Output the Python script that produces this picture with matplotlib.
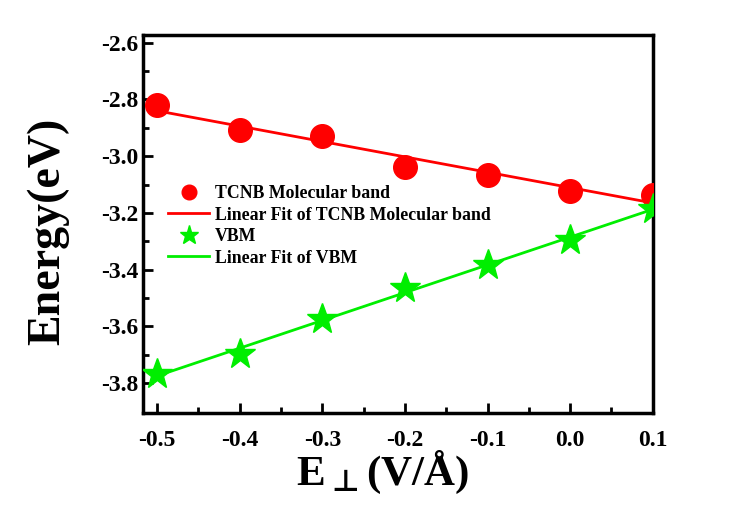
import numpy as np
import matplotlib.pyplot as plt

plt.rcParams['font.family'] = ['Liberation Serif', 'DejaVu Serif']
plt.rcParams['font.weight'] = 'bold'

field = [-0.5, -0.4, -0.3, -0.2, -0.1, 0.0, 0.1]
tcnb = [-2.82, -2.907, -2.928, -3.037, -3.066, -3.122, -3.136]
vbm = [-3.768, -3.697, -3.574, -3.464, -3.383, -3.295, -3.186]

x = np.array(field)
fit_t = np.polyval(np.polyfit(x, tcnb, 1), x)
fit_v = np.polyval(np.polyfit(x, vbm, 1), x)

fig = plt.figure(figsize=(7.43, 5.24), dpi=100)
ax = fig.add_axes([0.1925, 0.212, 0.686, 0.721])

ax.plot(x, tcnb, 'o', color='#ff0000', markersize=17, label='TCNB Molecular band', zorder=3)
ax.plot(x, fit_t, '-', color='#ff0000', lw=2, label='Linear Fit of TCNB Molecular band')
ax.plot(x, vbm, '*', color='#00ee00', markersize=23, label='VBM', zorder=3)
ax.plot(x, fit_v, '-', color='#00ee00', lw=2, label='Linear Fit of VBM')

ax.set_xlim(-0.517, 0.1)
ax.set_ylim(-3.905, -2.573)
ax.set_xticks(field)
ax.set_xticklabels(['-0.5', '-0.4', '-0.3', '-0.2', '-0.1', '0.0', '0.1'])
ax.set_xticks(np.arange(-0.45, 0.1, 0.1), minor=True)
ax.set_yticks([-3.8, -3.6, -3.4, -3.2, -3.0, -2.8, -2.6])
ax.set_yticklabels(['-3.8', '-3.6', '-3.4', '-3.2', '-3.0', '-2.8', '-2.6'])
ax.set_yticks(np.arange(-3.7, -2.6, 0.2), minor=True)
ax.tick_params(which='both', direction='in', width=2, labelsize=17)
ax.tick_params(axis='x', pad=12)
ax.tick_params(which='major', length=7)
ax.tick_params(which='minor', length=4)
for s in ax.spines.values():
    s.set_linewidth(2.5)

ax.set_xlabel(r'E$_{\bot}$(V/Å)', fontsize=31, fontweight='bold',
              math_fontfamily='dejavusans')
ax.xaxis.set_label_coords(0.47, -0.095)
ax.set_ylabel('Energy(eV)', fontsize=33, fontweight='bold')
ax.yaxis.set_label_coords(-0.145, 0.48)

ax.legend(loc='upper left', bbox_to_anchor=(0.017, 0.645), frameon=False,
          prop={'size': 12.8, 'weight': 'bold'}, handlelength=2.35,
          handletextpad=0.3, labelspacing=0.25, markerscale=0.62)

fig.savefig('out.png', dpi=100)
